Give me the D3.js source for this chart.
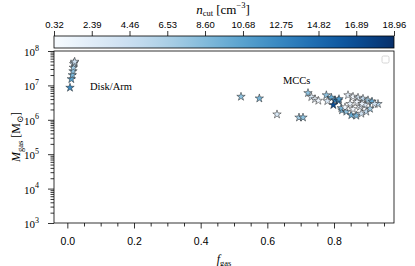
<!DOCTYPE html>
<html>
<head>
<meta charset="utf-8">
<script src="https://cdn.jsdelivr.net/npm/d3@7"></script>
<style>
body { margin: 0; background: #fff; }
svg { display: block; font-family: "Liberation Serif", "DejaVu Serif", serif; }
</style>
</head>
<body>
<svg id="chart" width="415" height="266"></svg>
<script>
// disk / arm selections (f_gas, M_gas, n_cut)
var diskF = [0.008, 0.012, 0.015, 0.017, 0.018, 0.019, 0.021, 0.022];
var diskM = [8.6e6, 1.53e7, 2.0e7, 2.6e7, 3.3e7, 4.2e7, 4.6e7, 4.9e7];
var diskN = [12.5, 10.5, 9, 8, 7, 6, 5, 4];

// molecular cloud complexes
var mccF = [0.521, 0.576, 0.629, 0.695, 0.707, 0.722, 0.732, 0.743, 0.753, 0.777,
  0.792, 0.803, 0.813, 0.798, 0.780, 0.842, 0.857, 0.872, 0.887, 0.902,
  0.914, 0.932, 0.824, 0.837, 0.852, 0.867, 0.882, 0.897, 0.908, 0.857,
  0.878, 0.893, 0.822, 0.869, 0.848, 0.833, 0.884, 0.922, 0.815];
var mccM = [4.7e6, 4.2e6, 1.44e6, 1.17e6, 1.17e6, 6.0e6, 4.6e6, 4.0e6, 3.6e6, 5.2e6,
  4.4e6, 3.7e6, 3.6e6, 2.7e6, 3.5e6, 5.2e6, 4.7e6, 4.4e6, 4.1e6, 3.7e6,
  3.4e6, 2.9e6, 1.9e6, 1.73e6, 1.37e6, 1.32e6, 1.51e6, 1.73e6, 2.1e6, 2.05e6,
  2.4e6, 2.7e6, 2.2e6, 3.3e6, 2.9e6, 2.3e6, 2.9e6, 2.9e6, 4.0e6];
var mccN = [8, 9, 3, 7, 8, 8, 3, 2, 1, 8,
  10, 13, 14, 17, 3, 2, 1, 3, 5, 7,
  10, 6, 9, 8, 10, 9, 4, 5, 7, 1,
  2, 3, 9, 1, 2, 1, 2, 4, 11];

var xMajor = [0.0, 0.2, 0.4, 0.6, 0.8];
var xMinor = [0.05, 0.1, 0.15, 0.25, 0.3, 0.35, 0.45, 0.5, 0.55, 0.65, 0.7, 0.75, 0.85, 0.9, 0.95];
var yMajor = [1e3, 1e4, 1e5, 1e6, 1e7, 1e8];
var yExp = [3, 4, 5, 6, 7, 8];
var cbarTicks = [0.32, 2.39, 4.46, 6.53, 8.60, 10.68, 12.75, 14.82, 16.89, 18.96];
var cbarLabels = ['0.32', '2.39', '4.46', '6.53', '8.60', '10.68', '12.75', '14.82', '16.89', '18.96'];

var box = {left: 54, right: 394, top: 51, bottom: 223};
var svg = d3.select('#chart');

var x = d3.scaleLinear().domain([-0.04, 0.98]).range([box.left, box.right]);
var y = d3.scaleLog().domain([1e3, 1e8]).range([box.bottom, box.top]);
var c = d3.scaleSequential(d3.interpolateBlues).domain([0.32, 18.96]);

// ---- colorbar ----
var cb = {top: 36, bottom: 48};
var grad = svg.append('defs').append('linearGradient').attr('id', 'cbgrad');
d3.range(0, 1.0001, 0.05).forEach(function(t){
  grad.append('stop').attr('offset', t).attr('stop-color', d3.interpolateBlues(t));
});
svg.append('rect').attr('x', box.left).attr('y', cb.top)
  .attr('width', box.right - box.left).attr('height', cb.bottom - cb.top)
  .attr('fill', 'url(#cbgrad)').attr('stroke', '#000').attr('stroke-width', 0.8);
var cx = d3.scaleLinear().domain([0.32, 18.96]).range([box.left, box.right]);
var cbAxis = svg.append('g').attr('transform', 'translate(0,' + cb.top + ')')
  .call(d3.axisTop(cx).tickValues(cbarTicks).tickSize(5).tickPadding(3)
    .tickFormat(function(d, i){ return cbarLabels[i]; }));
cbAxis.select('.domain').remove();
cbAxis.selectAll('text').attr('font-size', 9.5).attr('font-family', null);
cbAxis.selectAll('line').attr('stroke-width', 0.8);

var title = svg.append('text').attr('x', 223).attr('y', 13.5)
  .attr('text-anchor', 'middle').attr('font-size', 13);
title.append('tspan').attr('font-style', 'italic').text('n');
title.append('tspan').attr('font-size', 8.5).attr('dy', 2.5).text('cut');
title.append('tspan').attr('dy', -2.5).text(' [cm');
title.append('tspan').attr('font-size', 8.5).attr('dy', -5.5).text('\u22123');
title.append('tspan').attr('dy', 5.5).text(']');

// ---- axes ----
var xa = svg.append('g').attr('transform', 'translate(0,' + box.bottom + ')');
xa.call(d3.axisBottom(x).tickValues(xMajor).tickSize(5.5).tickPadding(9).tickFormat(d3.format('.1f')));
xa.append('g').call(d3.axisBottom(x).tickValues(xMinor).tickSize(3.5).tickFormat(''));
xa.selectAll('.domain').remove();
xa.selectAll('text').attr('font-size', 10.5).attr('font-family', null);
xa.selectAll('line').attr('stroke-width', 0.8);

var yMinor = [];
[3, 4, 5, 6, 7].forEach(function(e){
  d3.range(2, 10).forEach(function(k){ yMinor.push(k * Math.pow(10, e)); });
});
var ya = svg.append('g').attr('transform', 'translate(' + box.left + ',0)');
ya.call(d3.axisLeft(y).tickValues(yMajor).tickSize(6).tickFormat(''));
ya.append('g').call(d3.axisLeft(y).tickValues(yMinor).tickSize(3.5).tickFormat(''));
ya.selectAll('.domain').remove();
ya.selectAll('line').attr('stroke-width', 0.8);
yMajor.forEach(function(v, i){
  var t = svg.append('text').attr('x', 39).attr('y', y(v) + 5)
    .attr('text-anchor', 'end').attr('font-size', 11);
  t.append('tspan').text('10');
  t.append('tspan').attr('font-size', 8).attr('dy', -5.5).text(yExp[i]);
});

svg.append('rect').attr('x', box.left).attr('y', box.top)
  .attr('width', box.right - box.left).attr('height', box.bottom - box.top)
  .attr('fill', 'none').attr('stroke', '#000').attr('stroke-width', 0.8);

// axis labels
var xl = svg.append('text').attr('x', 224).attr('y', 263)
  .attr('text-anchor', 'middle').attr('font-size', 12);
xl.append('tspan').attr('font-style', 'italic').text('f');
xl.append('tspan').attr('font-size', 8.5).attr('dy', 2.5).text('gas');

var yl = svg.append('text').attr('transform', 'translate(20,137) rotate(-90)')
  .attr('text-anchor', 'middle').attr('font-size', 12);
yl.append('tspan').attr('font-style', 'italic').text('M');
yl.append('tspan').attr('font-size', 8.5).attr('dy', 2.5).text('gas');
yl.append('tspan').attr('dy', -2.5).text(' [M');
yl.append('tspan').attr('font-size', 8.5).attr('dy', 2.5).text('\u2299');
yl.append('tspan').attr('dy', -2.5).text(']');

// empty legend frame
svg.append('rect').attr('x', 382).attr('y', 56).attr('width', 7).attr('height', 7)
  .attr('rx', 1.5).attr('fill', '#fff').attr('stroke', '#ccc').attr('stroke-width', 0.8);

// ---- points ----
var star = d3.symbol().type(d3.symbolStar).size(22);
function drawStars(fs, ms, ns){
  svg.append('g').selectAll('path').data(fs).enter().append('path')
    .attr('d', star)
    .attr('transform', function(d, i){ return 'translate(' + x(d) + ',' + y(ms[i]) + ')'; })
    .attr('fill', function(d, i){ return c(ns[i]); })
    .attr('stroke', '#222').attr('stroke-width', 0.5);
}
drawStars(diskF, diskM, diskN);
drawStars(mccF, mccM, mccN);

svg.append('text').attr('x', 90).attr('y', 89.5).attr('font-size', 10.5).text('Disk/Arm');
svg.append('text').attr('x', 283).attr('y', 84).attr('font-size', 10.5).text('MCCs');
</script>
</body>
</html>
